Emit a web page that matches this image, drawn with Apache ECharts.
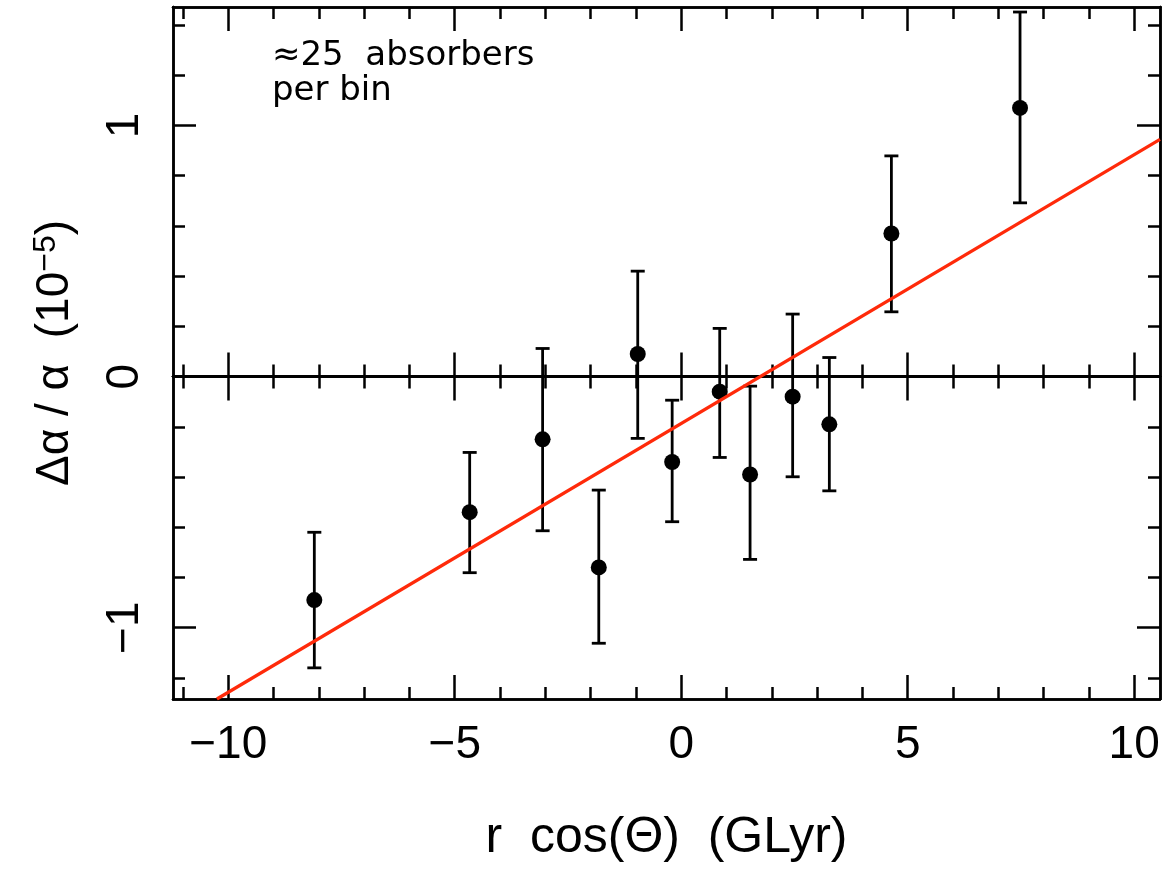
<!DOCTYPE html>
<html><head><meta charset="utf-8">
<script src="https://cdn.jsdelivr.net/npm/echarts@6/dist/echarts.min.js"></script>
<style>html,body{margin:0;padding:0;background:#fff}#c{width:1165px;height:869px}</style>
</head><body><div id="c"></div>
<script>
// ---- data ----
const xPos      = [-8.10, -4.67, -3.06, -1.82, -0.96, -0.20, 0.85, 1.52, 2.46, 3.27, 4.64, 7.48];
const yVals     = [-0.89, -0.54, -0.25, -0.76, 0.09, -0.34, -0.06, -0.39, -0.08, -0.19, 0.57, 1.07];
const errTop    = [-0.620, -0.302, 0.112, -0.452, 0.420, -0.094, 0.192, -0.038, 0.249, 0.076, 0.879, 1.452];
const errBottom = [-1.160, -0.781, -0.614, -1.062, -0.246, -0.578, -0.322, -0.728, -0.399, -0.455, 0.258, 0.692];
const fitX = [-10.25, 10.57];
const fitY = [-1.284, 0.945];
const xMinorTicks = [-11,-10,-9,-8,-7,-6,-5,-4,-3,-2,-1,0,1,2,3,4,5,6,7,8,9,10];
const xMajorTicks = [-10,-5,0,5,10];
const yMinorTicks = [-1.2,-1.0,-0.8,-0.6,-0.4,-0.2,0,0.2,0.4,0.6,0.8,1.0,1.2,1.4];
const yMajorTicks = [-1,0,1];
const X_MIN = -11.22, X_MAX = 10.57, Y_MIN = -1.284, Y_MAX = 1.472;

const BLACK = '#000';
const RED = '#ff2a0a';
const FONT = '"Liberation Sans", Arial, sans-serif';
const LW = 2.5;
const fmt = v => (v < 0 ? '\u2212' + Math.abs(v) : String(v));
const tickStyle = {color: BLACK, width: LW};

function xAx(opts) {
  return Object.assign({
    type: 'value', min: X_MIN, max: X_MAX, gridIndex: 0,
    splitLine: {show: false},
    axisLine: {show: true, onZero: false, lineStyle: {color: BLACK, width: LW}},
    axisTick: {show: true, inside: true, length: 12, customValues: xMinorTicks, lineStyle: tickStyle},
    axisLabel: {show: false}
  }, opts);
}
function yAx(opts) {
  return Object.assign({
    type: 'value', min: Y_MIN, max: Y_MAX, gridIndex: 0,
    splitLine: {show: false},
    axisLine: {show: true, onZero: false, lineStyle: {color: BLACK, width: LW}},
    axisTick: {show: true, inside: true, length: 12, customValues: yMinorTicks, lineStyle: tickStyle},
    axisLabel: {show: false}
  }, opts);
}
const zeroLine = {show: true, onZero: true, onZeroAxisIndex: 0, lineStyle: {color: BLACK, width: LW}};

const option = {
  backgroundColor: '#fff',
  animation: false,
  grid: {left: 173, right: 5, top: 7, bottom: 170, containLabel: false},
  xAxis: [
    xAx({position: 'bottom'}),
    xAx({position: 'bottom',
      axisTick: {show: true, inside: true, length: 24, customValues: xMajorTicks, lineStyle: tickStyle},
      axisLabel: {show: true, customValues: xMajorTicks, formatter: fmt, fontSize: 46, fontFamily: FONT, color: BLACK, margin: 23},
      name: 'r  cos(\u0398)  (GLyr)', nameLocation: 'middle', nameGap: 114,
      nameTextStyle: {fontSize: 50, fontFamily: FONT, color: BLACK}
    }),
    xAx({position: 'top'}),
    xAx({position: 'top', axisTick: {show: true, inside: true, length: 24, customValues: xMajorTicks, lineStyle: tickStyle}}),
    // zero line with crossing ticks
    xAx({position: 'bottom', axisLine: zeroLine}),
    xAx({position: 'bottom', axisLine: zeroLine,
      axisTick: {show: true, inside: false, length: 12, customValues: xMinorTicks, lineStyle: tickStyle}}),
    xAx({position: 'bottom', axisLine: zeroLine,
      axisTick: {show: true, inside: true, length: 24, customValues: xMajorTicks, lineStyle: tickStyle}}),
    xAx({position: 'bottom', axisLine: zeroLine,
      axisTick: {show: true, inside: false, length: 24, customValues: xMajorTicks, lineStyle: tickStyle}})
  ],
  yAxis: [
    yAx({position: 'left'}),
    yAx({position: 'left',
      axisTick: {show: true, inside: true, length: 23, customValues: yMajorTicks, lineStyle: tickStyle},
      axisLabel: {show: true, customValues: yMajorTicks, formatter: fmt, rotate: 90, fontSize: 46, fontFamily: FONT, color: BLACK, margin: 25},
      name: '{a|\u0394\u03b1 / \u03b1  (10}{s|\u22125}{a|)}', nameLocation: 'middle', nameGap: 93,
      nameTextStyle: {
        color: BLACK,
        rich: {
          a: {fontSize: 46, fontFamily: FONT, color: BLACK, lineHeight: 50},
          s: {fontSize: 32, fontFamily: FONT, color: BLACK, verticalAlign: 'top', lineHeight: 50, padding: [0, 0, 14, 0]}
        }
      }
    }),
    yAx({position: 'right'}),
    yAx({position: 'right', axisTick: {show: true, inside: true, length: 23, customValues: yMajorTicks, lineStyle: tickStyle}})
  ],
  graphic: [{
    type: 'text', left: 272, top: 39, z: 10,
    style: {text: '\u224825  absorbers\nper bin', fontSize: 34, fontFamily: '"DejaVu Sans", sans-serif', fill: BLACK, lineHeight: 35}
  }],
  series: [
    {
      type: 'custom', xAxisIndex: 0, yAxisIndex: 0, z: 2,
      data: xPos.map((x, i) => [x, errBottom[i], errTop[i]]),
      encode: {x: 0, y: [1, 2]},
      renderItem: function (params, api) {
        const x = api.value(0), lo = api.value(1), hi = api.value(2);
        const t = api.coord([x, hi]), b = api.coord([x, lo]);
        const cap = 7;
        const st = {stroke: BLACK, lineWidth: 2.8};
        return {type: 'group', children: [
          {type: 'line', shape: {x1: t[0], y1: t[1], x2: b[0], y2: b[1]}, style: st},
          {type: 'line', shape: {x1: t[0] - cap, y1: t[1], x2: t[0] + cap, y2: t[1]}, style: st},
          {type: 'line', shape: {x1: b[0] - cap, y1: b[1], x2: b[0] + cap, y2: b[1]}, style: st}
        ]};
      }
    },
    {
      type: 'scatter', xAxisIndex: 0, yAxisIndex: 0, z: 3,
      data: xPos.map((x, i) => [x, yVals[i]]),
      symbol: 'circle', symbolSize: 16,
      itemStyle: {color: BLACK, opacity: 1}
    },
    {
      type: 'line', xAxisIndex: 0, yAxisIndex: 0, z: 5,
      data: fitX.map((x, i) => [x, fitY[i]]),
      showSymbol: false, symbol: 'none', clip: true,
      lineStyle: {color: RED, width: 3.2}
    }
  ]
};
const chart = echarts.init(document.getElementById('c'), null, {renderer: 'canvas'});
chart.setOption(option);
</script>
</body></html>
